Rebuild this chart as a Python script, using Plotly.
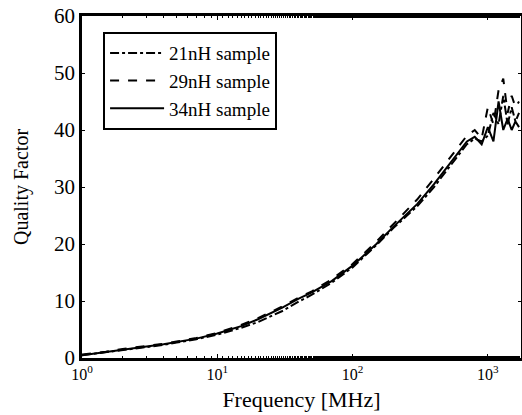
import plotly.graph_objects as go

freq_mhz = [1, 1.5, 2, 3, 4, 5, 7, 10, 15, 20, 30, 40, 50, 70, 100, 150, 200, 300,
            400, 500, 600, 700, 800, 900, 1000, 1100, 1200, 1300, 1400, 1500, 1600, 1700]

q_21nh = [0.5, 1.0, 1.4, 1.9, 2.3, 2.7, 3.3, 4.1, 5.3, 6.3, 8.2, 9.9, 11.1, 13.2, 15.9, 19.8,
          22.8, 26.6, 30.0, 33.0, 35.5, 37.5, 38.5, 38.0, 39.0, 43.0, 41.0, 46.0, 41.0, 44.0, 41.5, 43.0]
q_29nh = [0.6, 1.1, 1.6, 2.1, 2.5, 2.9, 3.5, 4.4, 5.8, 7.0, 9.0, 10.6, 11.7, 13.8, 16.5, 20.4,
          23.5, 27.8, 31.5, 34.5, 37.0, 39.0, 40.0, 38.5, 44.0, 41.0, 47.0, 49.0, 43.0, 46.0, 44.0, 45.0]
q_34nh = [0.5, 1.1, 1.5, 2.0, 2.4, 2.8, 3.4, 4.3, 5.6, 6.8, 8.8, 10.4, 11.5, 13.5, 16.2, 20.0,
          23.0, 27.0, 30.5, 33.5, 36.0, 38.0, 38.8, 37.5, 40.5, 38.0, 45.0, 40.0, 42.0, 40.0, 41.5, 40.5]

series_names = ["21nH sample", "29nH sample", "34nH sample"]
x_tick_vals = [1, 10, 100, 1000]
x_tick_text = ["10<sup>0</sup>", "10<sup>1</sup>", "10<sup>2</sup>", "10<sup>3</sup>"]
y_tick_vals = [0, 10, 20, 30, 40, 50, 60]

FONT = "Liberation Serif"

fig = go.Figure()
for name, vals, dash in zip(series_names, [q_21nh, q_29nh, q_34nh], ["dashdot", "dash", "solid"]):
    fig.add_trace(go.Scatter(x=freq_mhz, y=vals, mode="lines", name=name,
                             line=dict(color="black", width=2, dash=dash)))

fig.update_layout(
    width=522, height=415,
    margin=dict(l=82, r=1, t=16, b=57, autoexpand=False),
    paper_bgcolor="white", plot_bgcolor="white",
    font=dict(family=FONT, color="black", size=19),
    legend=dict(x=0.048, y=0.953, xanchor="left", yanchor="top",
                bordercolor="black", borderwidth=2, bgcolor="white",
                font=dict(family=FONT, size=19), itemwidth=54, tracegroupgap=0),
    showlegend=True,
)
fig.update_xaxes(type="log", range=[0, 3.245], tickvals=x_tick_vals, ticktext=x_tick_text,
                 showline=True, linecolor="black", linewidth=2.5, mirror="ticks",
                 ticks="inside", ticklen=4, tickcolor="black", showgrid=False, zeroline=False,
                 minor=dict(ticks="inside", ticklen=2, tickcolor="black", showgrid=False),
                 automargin=False, ticklabeloverflow="allow",
                 title=dict(text="Frequency [MHz]", font=dict(size=22), standoff=10),
                 tickfont=dict(size=16))
fig.update_yaxes(range=[0, 60], tickvals=y_tick_vals,
                 showline=True, linecolor="black", linewidth=2.5, mirror="ticks",
                 ticks="inside", ticklen=3, tickcolor="black", showgrid=False, zeroline=False,
                 automargin=False, ticklabeloverflow="allow",
                 title=dict(text="Quality Factor", font=dict(size=20), standoff=21),
                 tickfont=dict(size=21))

fig.write_html("out.html", config={"displayModeBar": False},
               post_script="document.body.style.margin='0';")
